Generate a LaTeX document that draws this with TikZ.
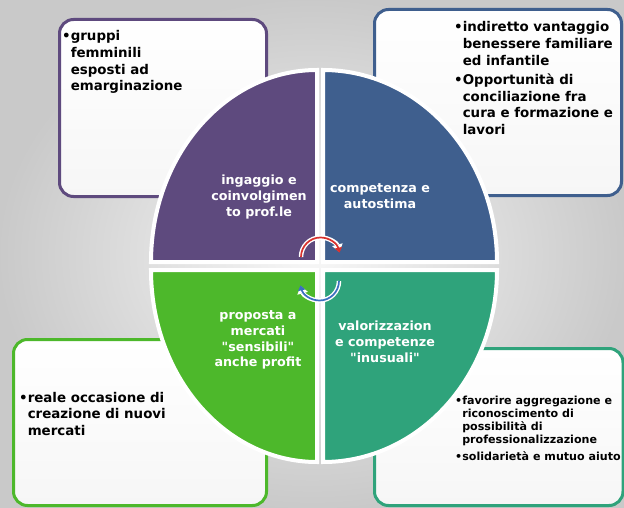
\documentclass[tikz,border=0pt]{standalone}
\usepackage{fontspec}
\setmainfont{DejaVu Sans}[Ligatures=TeXOff]
\usetikzlibrary{arrows.meta}
\definecolor{cpurple}{HTML}{5E4A7E}
\definecolor{cblue}{HTML}{3F5F8E}
\definecolor{cgreen}{HTML}{4DB82B}
\definecolor{cteal}{HTML}{2FA37B}
\definecolor{cred}{HTML}{D8312E}
\definecolor{carcblue}{HTML}{3B6FC0}
\begin{document}
\begin{tikzpicture}[x=1pt,y=-1pt,
  box/.style={line width=3pt, rounded corners=14pt, top color=white, bottom color=gray!7},
  quad/.style={draw=white, line width=4pt},
  lab/.style={text=white, font=\bfseries\fontsize{12.7}{15.8}\selectfont, align=center, inner sep=0pt},
  btxt/.style={font=\bfseries\fontsize{13.4}{16.6}\selectfont, anchor=base west, inner sep=0pt},
  stxt/.style={font=\bfseries\fontsize{11.1}{13.3}\selectfont, anchor=base west, inner sep=0pt},
]
\useasboundingbox (0,0) rectangle (624,508);
\shade[inner color=gray!6, outer color=gray!42] (0,0) rectangle (624,508);

% boxes
\draw[box, draw=cpurple] (59.5,19.5) rectangle (266.5,196.5);
\draw[box, draw=cblue] (374.5,9.5) rectangle (621.5,195.5);
\draw[box, draw=cgreen] (13.5,339.5) rectangle (266.5,505.5);
\draw[box, draw=cteal] (374.5,348.5) rectangle (623,505.5);

% box texts
\node[btxt] (t1) at (62,41) {\begin{tabular}[t]{@{}l@{}l@{}}•&gruppi\\ &femminili\\ &esposti ad\\ &emarginazione\end{tabular}};
\node[btxt] (t2) at (454,32) {\begin{tabular}[t]{@{}l@{}l@{}}•&indiretto vantaggio\\ &benessere familiare\\ &ed infantile\\[3pt] •&Opportunità di\\ &conciliazione fra\\ &cura e formazione e\\ &lavori\end{tabular}};
\node[btxt] (t3) at (19,402) {\begin{tabular}[t]{@{}l@{}l@{}}•&reale occasione di\\ &creazione di nuovi\\ &mercati\end{tabular}};
\node[stxt] (t4) at (455,404) {\begin{tabular}[t]{@{}l@{}l@{}}•&favorire aggregazione e\\ &riconoscimento di\\ &possibilità di\\ &professionalizzazione\\[3pt] •&solidarietà e mutuo aiuto\end{tabular}};

% quadrants
\draw[quad, fill=cpurple] (317,262) -- (151,262) arc[start angle=180, end angle=270, x radius=166, y radius=192] -- cycle;
\draw[quad, fill=cblue] (323,262) -- (323,70) arc[start angle=270, end angle=360, x radius=174, y radius=192] -- cycle;
\draw[quad, fill=cgreen] (317,270) -- (151,270) arc[start angle=180, end angle=90, x radius=166, y radius=192] -- cycle;
\draw[quad, fill=cteal] (323,270) -- (497,270) arc[start angle=0, end angle=90, x radius=174, y radius=192] -- cycle;

% labels
\node[lab] (l1) at (259,197) {ingaggio e\\coinvolgimen\\to prof.le};
\node[lab] (l2) at (380,196) {competenza e\\autostima};
\node[lab] (l3) at (258,340) {proposta a\\mercati\\"sensibili"\\anche profit};
\node[lab] (l4) at (385,342) {valorizzazion\\e competenze\\"inusuali"};

% cycle arrows
\coordinate (rs) at (301,257);
\coordinate (bs) at (339,281);
\draw[white, line width=4.5pt, -{Triangle[width=10.5pt,length=7.5pt]}] (rs) arc[start angle=180, end angle=345, radius=19.5];
\draw[cred, line width=1.7pt, -{Triangle[width=7pt,length=5pt]}] (rs) arc[start angle=180, end angle=347, radius=19.5];
\draw[white, line width=4.5pt, -{Triangle[width=10.5pt,length=7.5pt]}] (bs) arc[start angle=0, end angle=165, radius=19.5];
\draw[carcblue, line width=1.7pt, -{Triangle[width=7pt,length=5pt]}] (bs) arc[start angle=0, end angle=167, radius=19.5];
\end{tikzpicture}
\end{document}
